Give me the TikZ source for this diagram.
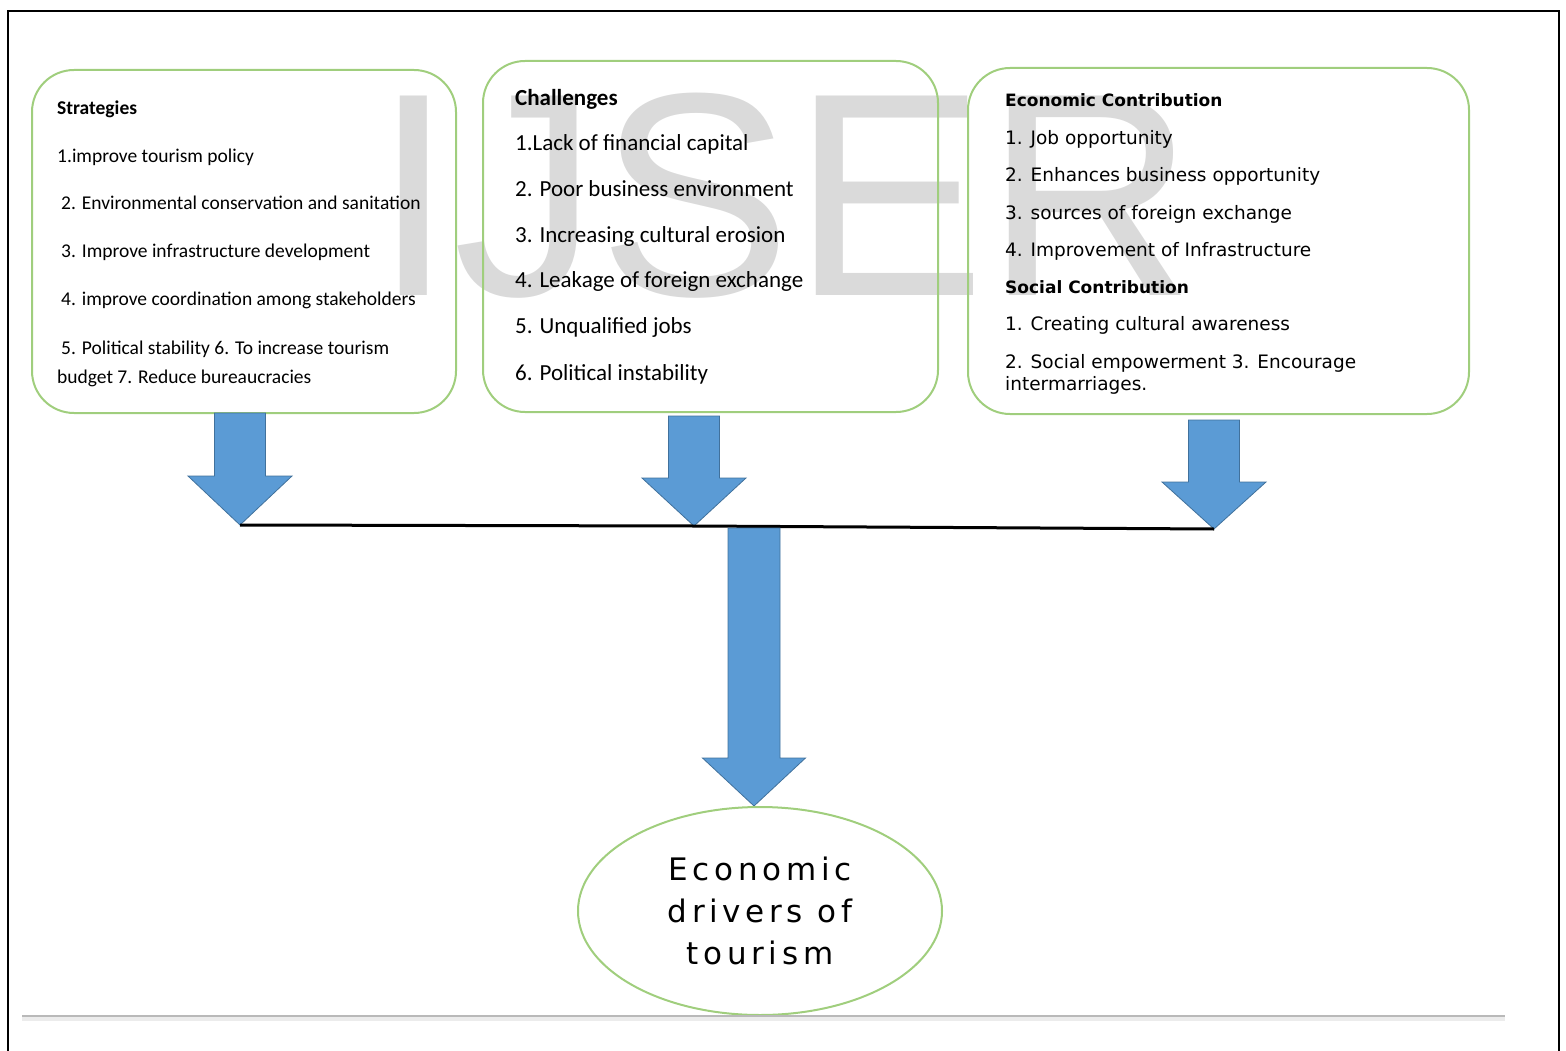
\documentclass[tikz,border=0pt]{standalone}
\usepackage{fontspec}
\setmainfont{Carlito}
\newfontfamily\verd{DejaVu Sans}
\newfontfamily\ellfont[LetterSpace=15]{DejaVu Sans}
\newfontfamily\wmfont{Liberation Sans}
\usetikzlibrary{shapes.geometric}
\definecolor{boxgreen}{RGB}{160,206,125}
\definecolor{arrblue}{RGB}{91,155,213}
\definecolor{arredge}{RGB}{65,113,156}
\definecolor{wmgray}{RGB}{218,218,218}
\definecolor{rulegray}{RGB}{185,185,185}
\definecolor{rulelight}{RGB}{236,236,236}
\newcommand\barrow[7]{% name, cx, top, shoulder, tip, shaft half, head half
  \filldraw[blockarrow] ({#2-#6},#3) -- ({#2+#6},#3) -- ({#2+#6},#4) -- ({#2+#7},#4)
    -- (#2,#5) -- ({#2-#7},#4) -- ({#2-#6},#4) -- cycle;
  \coordinate (#1) at (#2,#5);}
\begin{document}
\begin{tikzpicture}[x=1pt,y=-1pt,
  box/.style={draw=boxgreen, line width=2pt, rounded corners=42pt, inner sep=0pt},
  blockarrow/.style={fill=arrblue, draw=arredge, line width=0.8pt},
  stxt/.style={anchor=base west, inner sep=0pt, font=\fontsize{19.5}{22}\selectfont},
  ctxt/.style={anchor=base west, inner sep=0pt, font=\fontsize{23}{26}\selectfont},
  etxt/.style={anchor=base west, inner sep=0pt, font=\verd\fontsize{18.5}{21}\selectfont},
  ebold/.style={anchor=base west, inner sep=0pt, font=\verd\bfseries\fontsize{17}{20}\selectfont},
]
\useasboundingbox (0,0) rectangle (1566,1051);
% frame
\draw[line width=2pt] (8,1051) -- (8,11) -- (1559,11) -- (1559,1051);
% watermark
\node[anchor=base west, inner sep=0pt, text=wmgray, font=\wmfont\fontsize{290}{290}\selectfont] (wm) at (373,295) {IJSER};
% boxes
\node[box, minimum width=424pt, minimum height=343pt] (strat) at (244,241.5) {};
\node[box, minimum width=455pt, minimum height=351pt] (chal) at (710.5,236.5) {};
\node[box, minimum width=501pt, minimum height=346pt] (econ) at (1218.5,241) {};
% strategies text
\node[stxt] (s0) at (57,115) {\bfseries Strategies};
\node[stxt] (s1) at (57,163) {1.improve tourism policy};
\node[stxt] (s2) at (61,210) {2. Environmental conservation and sanitation};
\node[stxt] (s3) at (61,258) {3. Improve infrastructure development};
\node[stxt] (s4) at (61,305) {4. improve coordination among stakeholders};
\node[stxt] (s5) at (61,354) {5. Political stability 6. To increase tourism};
\node[stxt] (s6) at (57,383) {budget 7. Reduce bureaucracies};
% challenges text
\node[ctxt] (c0) at (515,106) {\bfseries Challenges};
\node[ctxt] (c1) at (515,151) {1.Lack of financial capital};
\node[ctxt] (c2) at (515,197) {2. Poor business environment};
\node[ctxt] (c3) at (515,243) {3. Increasing cultural erosion};
\node[ctxt] (c4) at (515,287) {4. Leakage of foreign exchange};
\node[ctxt] (c5) at (515,333) {5. Unqualified jobs};
\node[ctxt] (c6) at (515,380) {6. Political instability};
% economic text
\node[ebold] (e0) at (1005,107) {Economic Contribution};
\node[etxt] (e1) at (1005,145) {1. Job opportunity};
\node[etxt] (e2) at (1005,182) {2. Enhances business opportunity};
\node[etxt] (e3) at (1005,219) {3. sources of foreign exchange};
\node[etxt] (e4) at (1005,256) {4. Improvement of Infrastructure};
\node[ebold] (e5) at (1005,293) {Social Contribution};
\node[etxt] (e6) at (1005,330) {1. Creating cultural awareness};
\node[etxt] (e7) at (1005,368) {2. Social empowerment 3. Encourage};
\node[etxt] (e8) at (1005,390) {intermarriages.};
% arrows
\barrow{tip1}{240}{413}{476}{525}{25.5}{52}
\barrow{tip2}{694}{416}{478}{526}{25.5}{52}
\barrow{tip3}{1214}{420}{482}{529}{25.5}{52}
\draw[line width=3pt] (tip1) -- (tip2) -- (tip3);
\barrow{tip4}{754}{528}{758}{806}{26}{51.5}
% ellipse
\node[ellipse, draw=boxgreen, line width=2pt, minimum width=364pt, minimum height=208pt, inner sep=0pt,
      align=center, font=\ellfont\fontsize{31}{42}\selectfont] (ell) at (760,911)
      {Economic\\drivers of\\tourism};
% bottom rule
\fill[rulelight] (22,1017) rectangle (1505,1021);
\draw[rulegray, line width=2pt] (22,1016) -- (1505,1016);
\end{tikzpicture}
\end{document}
